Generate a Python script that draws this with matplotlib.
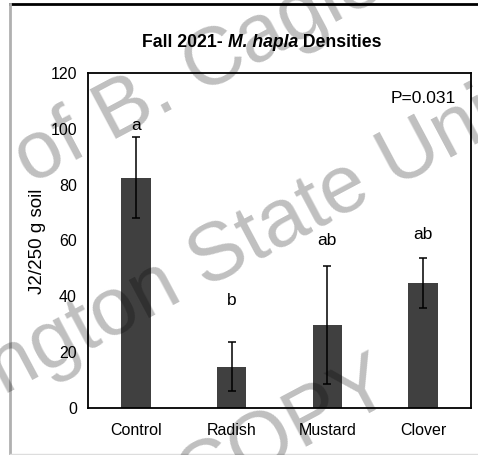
import matplotlib
matplotlib.use("Agg")
import matplotlib.pyplot as plt
from matplotlib.lines import Line2D

# data
treatments = ["Control", "Radish", "Mustard", "Clover"]
density = [82.5, 14.8, 29.7, 44.7]
std_err = [14.4, 8.8, 21.2, 8.9]
letters = ["a", "b", "ab", "ab"]
letter_y = [99.6, 37.0, 58.4, 60.4]
yticks = [0, 20, 40, 60, 80, 100, 120]

W, H = 478, 455
sans = ["Liberation Sans", "DejaVu Sans"]


def px(x, y):
    return x / W, 1 - y / H


fig = plt.figure(figsize=(W / 100, H / 100), dpi=100)
ax = fig.add_axes([88 / W, 1 - 408 / H, (471 - 88) / W, (408 - 73) / H])

x = range(len(treatments))
ax.bar(x, density, width=0.31, color="#404040", zorder=2)
ax.errorbar(x, density, yerr=std_err, fmt="none", ecolor="black",
            elinewidth=1.1, capsize=2.6, capthick=1.1, zorder=3)
for i, (lab, ly) in enumerate(zip(letters, letter_y)):
    ax.text(i, ly, lab, ha="center", va="baseline", fontsize=12.5, family=sans)

ax.set_xlim(-0.5, 3.5)
ax.set_ylim(0, 120)
ax.set_yticks(yticks)
ax.set_xticks(list(x))
ax.set_xticklabels(treatments, family=sans, fontsize=11.5)
ax.set_yticklabels([str(t) for t in yticks], family=sans, fontsize=11.5)
ax.tick_params(axis="both", length=0)
ax.tick_params(axis="y", pad=8)
ax.tick_params(axis="x", pad=11)
for s in ax.spines.values():
    s.set_linewidth(1.3)
    s.set_color("black")

ax.text(303 / 383, (408 - 103) / 335, "P=0.031", transform=ax.transAxes,
        ha="left", va="baseline", fontsize=12.5, family=sans)

# y label
fig.text(*px(37.5, 241), "J2/250 g soil", rotation=90, ha="center",
         va="center", fontsize=13.5, family=sans)

# title with italic species name
t1 = fig.text(*px(142, 47), "Fall 2021- ", ha="left", va="baseline",
              fontsize=12.7, fontweight="bold", family=sans)
t2 = ax.annotate("M. hapla", xy=(1, 0), xycoords=t1, ha="left", va="bottom",
                 fontsize=12.7, fontweight="bold", fontstyle="italic",
                 family=sans, annotation_clip=False)
ax.annotate(" Densities", xy=(1, 0), xycoords=t2, ha="left", va="bottom",
            fontsize=12.7, fontweight="bold", family=sans,
            annotation_clip=False)

# outer frame of the slide
fig.add_artist(Line2D([10 / W, 1], [1 - 4 / H] * 2, color="black", lw=2))
fig.add_artist(Line2D([10 / W] * 2, [1 - 4 / H, 1 - 454 / H], color="#b0b0b0", lw=2))
fig.add_artist(Line2D([10 / W, 1], [1 - 454 / H] * 2, color="#dddddd", lw=1))

# watermark
wm = dict(rotation=28, rotation_mode="anchor", color="black", alpha=0.25,
          fontsize=59, family=sans, zorder=10)
fig.text(*px(62, 168), "Property of B. Cagle", ha="center", va="baseline", **wm)
fig.text(*px(259, 260), "Washington State University", ha="center", va="baseline", **wm)
fig.text(*px(285, 432), "COPY", ha="center", va="center", **wm)

fig.savefig("out.png", dpi=100)
